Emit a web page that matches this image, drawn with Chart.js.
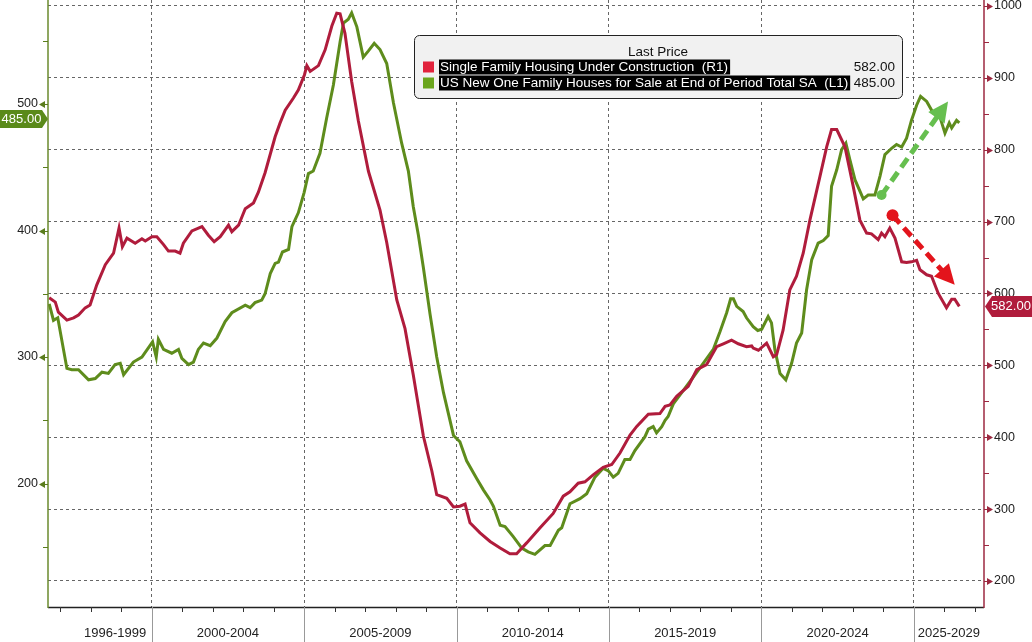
<!DOCTYPE html>
<html>
<head>
<meta charset="utf-8">
<script src="https://cdn.jsdelivr.net/npm/chart.js@4.4.1/dist/chart.umd.min.js"></script>
<style>
  html, body { margin: 0; padding: 0; background: #fff; }
  #wrap { width: 1032px; height: 642px; }
</style>
</head>
<body>
<div id="wrap"><canvas id="housingChart" width="1032" height="642"></canvas></div>
<script>
// Single family housing under construction (right axis, thousands)
const constructionYears = [1996.64, 1996.84, 1996.94, 1997.22, 1997.44, 1997.60, 1997.82, 1997.98, 1998.20, 1998.48,
  1998.75, 1998.93, 1999.04, 1999.19, 1999.46, 1999.68, 1999.79, 2000.01, 2000.17, 2000.39,
  2000.55, 2000.77, 2000.93, 2001.04, 2001.32, 2001.65, 2001.86, 2002.05, 2002.25, 2002.52,
  2002.63, 2002.85, 2003.07, 2003.34, 2003.50, 2003.72, 2004.05, 2004.21, 2004.38, 2004.65,
  2004.81, 2005.01, 2005.09, 2005.20, 2005.47, 2005.69, 2005.91, 2006.07, 2006.18, 2006.34,
  2006.56, 2006.78, 2007.11, 2007.49, 2007.71, 2008.04, 2008.31, 2008.58, 2008.91, 2009.19,
  2009.35, 2009.68, 2009.90, 2010.11, 2010.28, 2010.44, 2010.77, 2011.10, 2011.43, 2011.75,
  2011.97, 2012.30, 2012.74, 2013.17, 2013.50, 2013.72, 2013.99, 2014.21, 2014.49, 2014.81,
  2015.09, 2015.36, 2015.69, 2015.91, 2016.29, 2016.67, 2016.84, 2017.00, 2017.22, 2017.60,
  2017.88, 2018.20, 2018.53, 2018.75, 2019.02, 2019.24, 2019.51, 2019.68, 2019.73, 2019.90,
  2020.17, 2020.39, 2020.50, 2020.71, 2020.93, 2021.15, 2021.37, 2021.59, 2021.92, 2022.14,
  2022.30, 2022.47, 2022.74, 2023.01, 2023.23, 2023.45, 2023.61, 2023.83, 2023.94, 2024.05,
  2024.21, 2024.38, 2024.60, 2024.76, 2024.92, 2025.09, 2025.20, 2025.42, 2025.58, 2025.80,
  2026.07, 2026.24, 2026.34, 2026.49]
const constructionValues = [594, 588, 574, 563, 566, 570, 580, 584, 612, 640,
  656, 691, 665, 677, 670, 676, 673, 679, 679, 668,
  659, 659, 656, 670, 687, 693, 681, 672, 679, 695,
  686, 695, 718, 726, 741, 768, 818, 837, 855, 872,
  883, 904, 917, 909, 917, 939, 972, 990, 989, 962,
  895, 840, 770, 716, 671, 591, 551, 487, 402, 353,
  320, 315, 303, 304, 307, 281, 267, 255, 246, 238,
  238, 253, 274, 294, 318, 324, 336, 338, 348, 358,
  362, 378, 403, 415, 432, 433, 443, 445, 457, 471,
  494, 501, 526, 530, 535, 530, 526, 527, 524, 521,
  531, 512, 515, 549, 605, 624, 656, 702, 763, 804,
  828, 828, 804, 749, 702, 684, 683, 675, 684, 679,
  691, 677, 644, 643, 644, 646, 633, 626, 624, 600,
  580, 592, 592, 582]

// New one family houses for sale, end of period, SA (left axis, thousands)
const forSaleYears = [1996.64, 1996.78, 1996.92, 1997.22, 1997.38, 1997.60, 1997.93, 1998.15, 1998.37, 1998.58,
  1998.80, 1998.97, 1999.08, 1999.40, 1999.68, 2000.03, 2000.15, 2000.22, 2000.39, 2000.66,
  2000.88, 2000.99, 2001.21, 2001.37, 2001.53, 2001.70, 2001.92, 2002.14, 2002.41, 2002.63,
  2003.07, 2003.23, 2003.39, 2003.61, 2003.72, 2003.89, 2004.05, 2004.16, 2004.29, 2004.49,
  2004.60, 2004.81, 2005.00, 2005.14, 2005.30, 2005.52, 2005.74, 2005.96, 2006.18, 2006.29,
  2006.45, 2006.56, 2006.73, 2006.94, 2007.11, 2007.30, 2007.49, 2007.71, 2007.93, 2008.20,
  2008.42, 2008.58, 2008.75, 2008.91, 2009.13, 2009.35, 2009.57, 2009.90, 2010.11, 2010.33,
  2010.66, 2010.88, 2011.10, 2011.21, 2011.43, 2011.59, 2011.86, 2012.14, 2012.35, 2012.57,
  2012.90, 2013.07, 2013.34, 2013.45, 2013.72, 2014.05, 2014.27, 2014.54, 2014.81, 2014.98,
  2015.14, 2015.30, 2015.52, 2015.69, 2015.85, 2016.18, 2016.29, 2016.45, 2016.56, 2016.73,
  2016.84, 2016.94, 2017.11, 2017.33, 2017.76, 2018.09, 2018.42, 2018.64, 2018.86, 2018.99,
  2019.08, 2019.19, 2019.40, 2019.51, 2019.73, 2019.88, 2020.01, 2020.22, 2020.33, 2020.44,
  2020.61, 2020.80, 2020.99, 2021.15, 2021.32, 2021.48, 2021.65, 2021.86, 2022.03, 2022.19,
  2022.30, 2022.47, 2022.63, 2022.77, 2022.90, 2023.07, 2023.34, 2023.50, 2023.72, 2023.89,
  2024.05, 2024.27, 2024.43, 2024.60, 2024.76, 2024.92, 2025.09, 2025.22, 2025.42, 2025.63,
  2025.85, 2026.02, 2026.16, 2026.24, 2026.40, 2026.49]
const forSaleValues = [342, 329, 331, 291, 290, 290, 282, 283, 288, 287,
  294, 295, 286, 296, 300, 312, 300, 314, 306, 303,
  306, 299, 294, 296, 306, 311, 309, 315, 328, 335,
  341, 339, 343, 345, 350, 366, 374, 375, 383, 385,
  403, 414, 430, 445, 447, 461, 489, 515, 549, 564,
  567, 572, 561, 537, 542, 548, 543, 532, 501, 469,
  447, 419, 396, 371, 334, 300, 272, 238, 233, 218,
  204, 195, 187, 182, 167, 166, 158, 149, 146, 144,
  151, 151, 163, 165, 184, 188, 192, 205, 212, 210,
  205, 208, 219, 219, 226, 237, 243, 245, 240, 245,
  250, 253, 263, 270, 284, 295, 306, 320, 335, 346,
  346, 340, 336, 331, 324, 321, 322, 332, 327, 306,
  287, 282, 295, 311, 319, 353, 377, 390, 392, 396,
  435, 448, 464, 469, 456, 440, 425, 428, 428, 443,
  460, 465, 468, 466, 473, 487, 499, 506, 502, 493,
  490, 477, 485, 481, 487, 485]

const seriesNames = ['Single Family Housing Under Construction  (R1)',
  'US New One Family Houses for Sale at End of Period Total SA  (L1)']
const lastPrices = [582, 485]

const leftTicks = [150, 200, 250, 300, 350, 400, 450, 500, 550]
const rightTicks = [200, 250, 300, 350, 400, 450, 500, 550, 600, 650, 700, 750, 800, 850, 900, 950, 1000]
const yearTicks = [1997, 1998, 1999, 2000, 2001, 2002, 2003, 2004, 2005, 2006, 2007, 2008, 2009, 2010, 2011,
  2012, 2013, 2014, 2015, 2016, 2017, 2018, 2019, 2020, 2021, 2022, 2023, 2024, 2025, 2026, 2027]
const periodLabels = ['1996-1999', '2000-2004', '2005-2009', '2010-2014', '2015-2019', '2020-2024', '2025-2029']
const periodStarts = [1996, 2000, 2005, 2010, 2015, 2020, 2025]

// trend arrows, in (year, value) of their axis
const upArrow = {from: [2023.94, 428], to: [2026.12, 502]}   // left axis
const downArrow = {from: [2024.30, 709], to: [2026.34, 612]} // right axis

const RED = '#b01c3c'
const GREEN = '#5e8c1c'
const AXIS_FONT = '12.5px "Liberation Sans", Arial, sans-serif'
const LEGEND_FONT = '13.5px "Liberation Sans", Arial, sans-serif'
const TEXT = '#222'

function toPoints(xs, ys){
  return xs.map((x, i) => ({x: x, y: ys[i]}))
}

function line(ctx, x1, y1, x2, y2){
  ctx.beginPath()
  ctx.moveTo(x1, y1)
  ctx.lineTo(x2, y2)
  ctx.stroke()
}

function drawArrow(ctx, x1, y1, x2, y2, color, dot){
  const dx = x2 - x1, dy = y2 - y1
  const len = Math.hypot(dx, dy)
  const ux = dx / len, uy = dy / len
  const head = 20, half = 10
  const bx = x2 - ux * head, by = y2 - uy * head
  ctx.save()
  ctx.strokeStyle = color
  ctx.fillStyle = color
  ctx.lineWidth = 5
  ctx.setLineDash([11, 6])
  line(ctx, x1, y1, bx + ux * 2, by + uy * 2)
  ctx.setLineDash([])
  ctx.beginPath()
  ctx.moveTo(x2, y2)
  ctx.lineTo(bx - uy * half, by + ux * half)
  ctx.lineTo(bx + uy * half, by - ux * half)
  ctx.closePath()
  ctx.fill()
  ctx.beginPath()
  ctx.arc(x1, y1, dot, 0, Math.PI * 2)
  ctx.fill()
  ctx.restore()
}

const decorations = {
  id: 'decorations',
  afterDatasetsDraw(chart){
    const {ctx, scales: {x, yL, yR}} = chart
    drawArrow(ctx, x.getPixelForValue(upArrow.from[0]), yL.getPixelForValue(upArrow.from[1]),
      x.getPixelForValue(upArrow.to[0]), yL.getPixelForValue(upArrow.to[1]), '#66bf4f', 5)
    drawArrow(ctx, x.getPixelForValue(downArrow.from[0]), yR.getPixelForValue(downArrow.from[1]),
      x.getPixelForValue(downArrow.to[0]), yR.getPixelForValue(downArrow.to[1]), '#e3141c', 6)
  },
  afterDraw(chart){
    const {ctx, chartArea: a, scales: {x, yL, yR}} = chart
    const H = chart.height
    ctx.save()

    // axis lines
    ctx.lineWidth = 1.5
    ctx.strokeStyle = '#222'
    line(ctx, a.left, a.bottom + 0.5, a.right, a.bottom + 0.5)
    ctx.strokeStyle = '#6a8a2c'
    line(ctx, a.left, 0, a.left, a.bottom + 1)
    ctx.strokeStyle = '#9c2840'
    line(ctx, a.right, 0, a.right, a.bottom + 1)

    ctx.font = AXIS_FONT
    ctx.textBaseline = 'middle'

    // left axis ticks
    ctx.fillStyle = '#5a7d1c'
    ctx.strokeStyle = '#5a7d1c'
    ctx.lineWidth = 1
    leftTicks.forEach(v => {
      const y = Math.round(yL.getPixelForValue(v)) + 0.5
      if (v % 100 === 0){
        ctx.beginPath()
        ctx.moveTo(a.left - 9, y)
        ctx.lineTo(a.left - 3, y - 3.5)
        ctx.lineTo(a.left - 3, y + 3.5)
        ctx.closePath()
        ctx.fill()
        line(ctx, a.left - 3, y, a.left, y)
      } else {
        line(ctx, a.left - 5, y, a.left, y)
      }
    })
    ctx.fillStyle = TEXT
    ctx.textAlign = 'right'
    leftTicks.filter(v => v % 100 === 0).forEach(v => {
      ctx.fillText(String(v), a.left - 10, yL.getPixelForValue(v))
    })

    // right axis ticks
    ctx.fillStyle = '#9c2840'
    ctx.strokeStyle = '#9c2840'
    rightTicks.forEach(v => {
      const y = Math.round(yR.getPixelForValue(v)) + 0.5
      if (v % 100 === 0){
        ctx.beginPath()
        ctx.moveTo(a.right + 9, y)
        ctx.lineTo(a.right + 3, y - 3.5)
        ctx.lineTo(a.right + 3, y + 3.5)
        ctx.closePath()
        ctx.fill()
        line(ctx, a.right, y, a.right + 3, y)
      } else {
        line(ctx, a.right, y, a.right + 5, y)
      }
    })
    ctx.fillStyle = TEXT
    ctx.textAlign = 'left'
    rightTicks.filter(v => v % 100 === 0).forEach(v => {
      ctx.fillText(String(v), a.right + 10, yR.getPixelForValue(v))
    })

    // bottom axis: year ticks, period dividers and labels
    ctx.strokeStyle = '#333'
    yearTicks.forEach(v => {
      const px = Math.round(x.getPixelForValue(v)) + 0.5
      if (px > a.left && px < a.right) line(ctx, px, a.bottom, px, a.bottom + 5)
    })
    ctx.strokeStyle = '#999'
    periodStarts.forEach(v => {
      const px = Math.round(x.getPixelForValue(v)) + 0.5
      if (px > a.left && px < a.right) line(ctx, px, a.bottom, px, H)
    })
    ctx.fillStyle = '#222'
    ctx.textAlign = 'center'
    ctx.font = '13px "Liberation Sans", Arial, sans-serif'
    periodLabels.forEach((lab, i) => {
      const x1 = Math.max(a.left, x.getPixelForValue(periodStarts[i]))
      const x2 = Math.min(a.right, x.getPixelForValue(periodStarts[i] + 5))
      ctx.fillText(lab, (x1 + x2) / 2, a.bottom + 26)
    })

    // last price tags
    ctx.font = '13px "Liberation Sans", Arial, sans-serif'
    const yg = yL.getPixelForValue(lastPrices[1]) - 4
    ctx.fillStyle = '#5a8a1a'
    ctx.beginPath()
    ctx.moveTo(0, yg - 9); ctx.lineTo(a.left - 6, yg - 9); ctx.lineTo(a.left, yg)
    ctx.lineTo(a.left - 6, yg + 9); ctx.lineTo(0, yg + 9); ctx.closePath()
    ctx.fill()
    ctx.fillStyle = '#fff'
    ctx.fillText(lastPrices[1].toFixed(2), 21.5, yg + 0.5)

    const yr = yR.getPixelForValue(lastPrices[0])
    ctx.fillStyle = '#b01c3c'
    ctx.beginPath()
    ctx.moveTo(a.right + 1, yr); ctx.lineTo(a.right + 8, yr - 10.5); ctx.lineTo(chart.width, yr - 10.5)
    ctx.lineTo(chart.width, yr + 10.5); ctx.lineTo(a.right + 8, yr + 10.5); ctx.closePath()
    ctx.fill()
    ctx.fillStyle = '#fff'
    ctx.fillText(lastPrices[0].toFixed(2), a.right + 27, yr + 0.5)

    // legend box
    const bx = 414.5, by = 35.5, bw = 488, bh = 63
    ctx.fillStyle = '#f1f1f1'
    ctx.strokeStyle = '#222'
    ctx.lineWidth = 1
    ctx.beginPath()
    ctx.roundRect(bx, by, bw, bh, 5)
    ctx.fill()
    ctx.stroke()
    ctx.font = LEGEND_FONT
    ctx.fillStyle = '#111'
    ctx.textAlign = 'center'
    ctx.fillText('Last Price', 658, 52)
    const swatches = ['#e1233c', '#6aa51c']
    seriesNames.forEach((name, i) => {
      const cy = 67 + i * 16
      ctx.fillStyle = swatches[i]
      ctx.fillRect(423, cy - 5.5, 11, 11)
      const w = ctx.measureText(name).width
      ctx.fillStyle = '#000'
      ctx.fillRect(439, cy - 7.5, w + 3, 15)
      ctx.fillStyle = '#fff'
      ctx.textAlign = 'left'
      ctx.fillText(name, 440, cy + 0.5)
      ctx.fillStyle = '#111'
      ctx.textAlign = 'right'
      ctx.fillText(lastPrices[i].toFixed(2), 895, cy + 0.5)
    })
    ctx.restore()
  }
}

const ctx = document.getElementById('housingChart')

new Chart(ctx, {
  type: 'line',
  data: {
    datasets: [{
      label: seriesNames[0],
      data: toPoints(constructionYears, constructionValues),
      yAxisID: 'yR',
      borderColor: RED,
      borderWidth: 3,
      pointRadius: 0,
      tension: 0
    }, {
      label: seriesNames[1],
      data: toPoints(forSaleYears, forSaleValues),
      yAxisID: 'yL',
      borderColor: GREEN,
      borderWidth: 3,
      pointRadius: 0,
      tension: 0
    }]
  },
  options: {
    responsive: false,
    animation: false,
    devicePixelRatio: 1,
    layout: {padding: 0},
    plugins: {
      legend: {display: false},
      tooltip: {enabled: false}
    },
    scales: {
      x: {
        type: 'linear',
        position: 'bottom',
        min: 1996.6,
        max: 2027.3,
        afterBuildTicks: s => { s.ticks = yearTicks.map(v => ({value: v})) },
        afterFit: s => { s.height = 35 },
        ticks: {display: false},
        border: {display: false, dash: [3, 3]},
        grid: {
          drawTicks: false,
          lineWidth: 1,
          color: c => (c.tick && c.tick.value % 5 === 0) ? '#666' : 'rgba(0,0,0,0)'
        }
      },
      yL: {
        type: 'linear',
        position: 'left',
        min: 102.4,
        max: 582.2,
        afterBuildTicks: s => { s.ticks = leftTicks.map(v => ({value: v})) },
        afterFit: s => { s.width = 48 },
        ticks: {display: false},
        border: {display: false},
        grid: {display: false}
      },
      yR: {
        type: 'linear',
        position: 'right',
        min: 163.8,
        max: 1008.3,
        afterBuildTicks: s => { s.ticks = rightTicks.map(v => ({value: v})) },
        afterFit: s => { s.width = 48 },
        ticks: {display: false},
        border: {display: false, dash: [3, 3]},
        grid: {
          drawTicks: false,
          lineWidth: 1,
          color: c => (c.tick && c.tick.value % 100 === 0) ? '#666' : 'rgba(0,0,0,0)'
        }
      }
    }
  },
  plugins: [decorations]
})
</script>
</body>
</html>
